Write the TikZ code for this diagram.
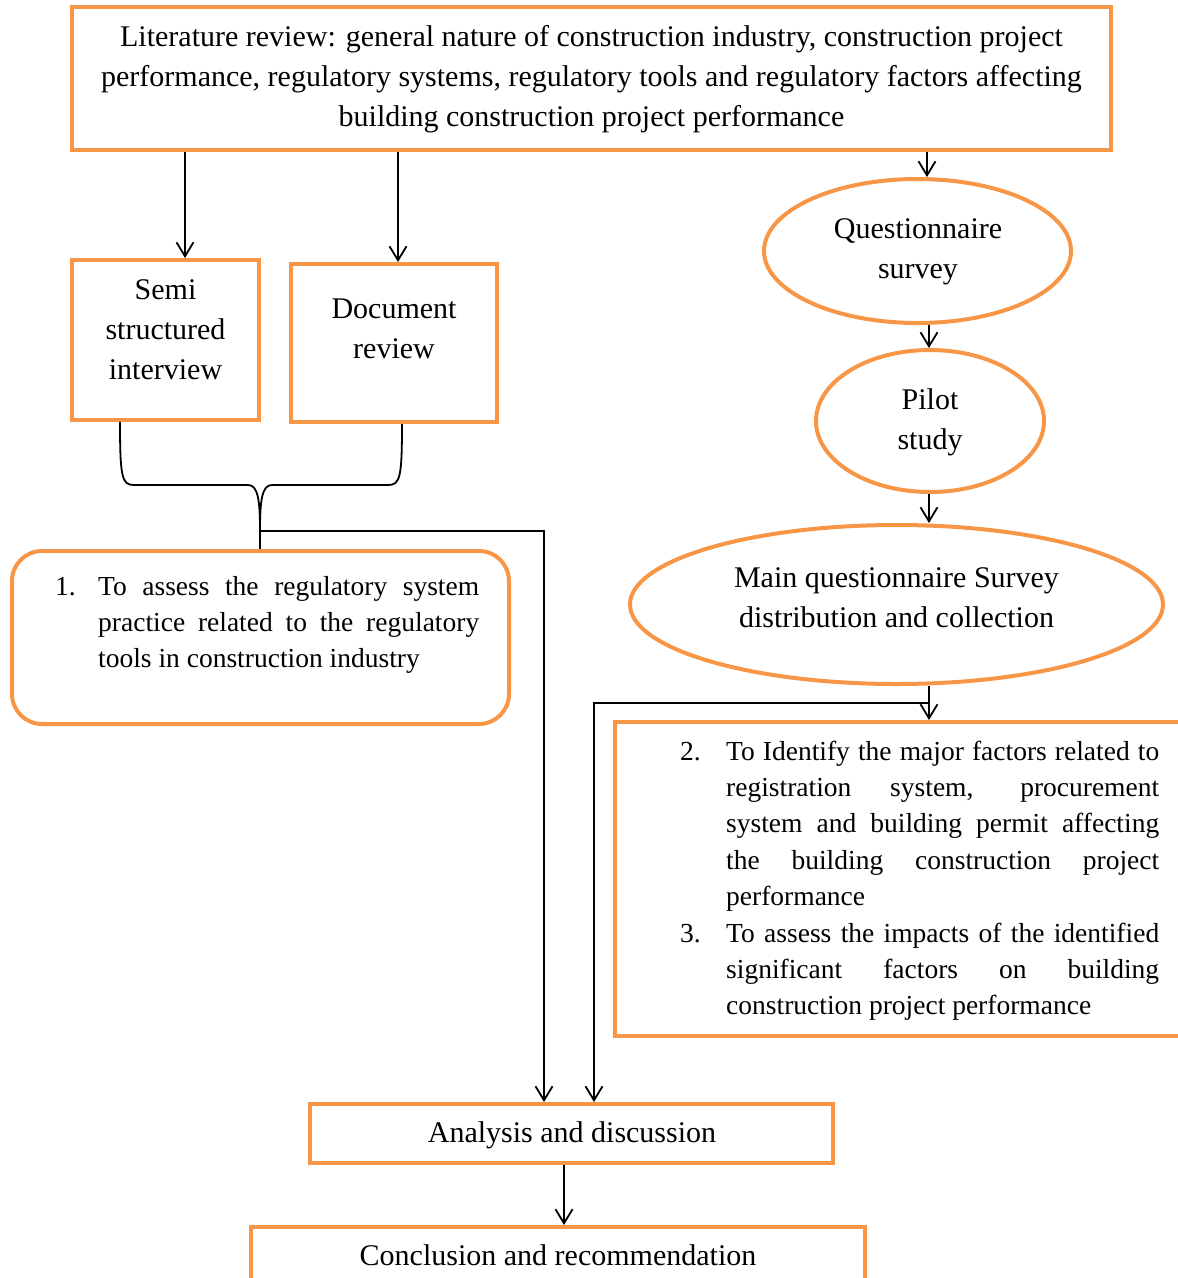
\documentclass[tikz,border=0pt]{standalone}
\usepackage{fontspec}
\setmainfont{Liberation Serif}
\usetikzlibrary{shapes.geometric,arrows.meta,calc}
\definecolor{boxorange}{HTML}{F79646}
\begin{document}
\begin{tikzpicture}[x=1pt,y=-1pt,
  obox/.style={draw=boxorange,line width=4pt,rectangle,inner sep=0pt},
  oell/.style={draw=boxorange,line width=4pt,ellipse,inner sep=0pt},
  big/.style={font=\fontsize{30}{40}\selectfont,inner sep=0pt,align=center,anchor=north},
  small/.style={font=\fontsize{27.5}{36.4}\selectfont,inner sep=0pt,align=justify,anchor=north west},
  conn/.style={draw=black,line width=1.8pt},
  arr/.style={conn,-{Straight Barb[length=14pt,width=17pt]}}]
\useasboundingbox (0,0) rectangle (1178,1278);
% boxes
\node[obox,minimum width=1039pt,minimum height=143pt] (top) at (591.5,78.5) {};
\node[obox,minimum width=187pt,minimum height=160pt] (semi) at (165.5,340) {};
\node[obox,minimum width=206pt,minimum height=158pt] (doc) at (394,343) {};
\node[oell,minimum width=307pt,minimum height=144pt] (quest) at (917.5,251) {};
\node[oell,minimum width=228pt,minimum height=142pt] (pilot) at (930,421) {};
\node[oell,minimum width=533pt,minimum height=159pt] (mainq) at (896.5,604.5) {};
\node[obox,rounded corners=30pt,minimum width=497pt,minimum height=173pt] (obj1) at (260.5,637.5) {};
\node[obox,minimum width=570pt,minimum height=314pt] (obj23) at (900,879) {};
\node[obox,minimum width=523pt,minimum height=59pt] (ana) at (571.5,1133.5) {};
\node[obox,minimum width=614pt,minimum height=73pt] (conc) at (558,1263.5) {};
% texts
\node[big] (toptxt) at (591.5,18) {\strut Literature review: general nature of construction industry, construction project\\performance, regulatory systems, regulatory tools and regulatory factors affecting\\building construction project performance};
\node[big] (semitxt) at (165.5,271) {\strut Semi\\structured\\interview};
\node[big] (doctxt) at (394,290) {\strut Document\\review};
\node[big] (questtxt) at (918,210.5) {\strut Questionnaire\\survey};
\node[big] (pilottxt) at (930,381) {\strut Pilot\\study};
\node[big] (maintxt) at (896.5,559) {\strut Main questionnaire Survey\\distribution and collection};
\node[big] (anatxt) at (572,1114) {\strut Analysis and discussion};
\node[big] (conctxt) at (558,1237) {\strut Conclusion and recommendation};
\node[small,text width=424pt] (obj1txt) at (55,569.5) {\tolerance=10000\hbadness=10000
\hangindent=43pt\hangafter=1\noindent\strut\makebox[43pt][l]{1.}To assess the regulatory system\linebreak practice related to the regulatory\linebreak tools in construction industry\par};
\node[small,text width=479pt] (obj23txt) at (680,734.5) {\tolerance=10000\hbadness=10000
\hangindent=46pt\hangafter=1\noindent\strut\makebox[46pt][l]{2.}To Identify the major factors related to\linebreak registration system, procurement\linebreak system and building permit affecting\linebreak the building construction project\linebreak performance\par
\hangindent=46pt\hangafter=1\noindent\makebox[46pt][l]{3.}To assess the impacts of the identified\linebreak significant factors on building\linebreak construction project performance\par};
% helper coordinates
\coordinate (c120) at (120,0);
\coordinate (c185) at (185,0);
\coordinate (c398) at (398,0);
\coordinate (c402) at (402,0);
\coordinate (c544) at (544,0);
\coordinate (c564) at (564,0);
\coordinate (c594) at (594,0);
\coordinate (c927) at (927,0);
\coordinate (c929) at (929,0);
\coordinate (join) at (260,531);
\coordinate (split) at (929,703);
% connectors
\draw[arr] (top.south -| c185) -- (semi.north -| c185);
\draw[arr] (top.south -| c398) -- (doc.north -| c398);
\draw[arr] (top.south -| c927) -- (quest.north -| c927);
\draw[arr] (quest.south -| c929) -- (pilot.north -| c929);
\draw[arr] (pilot.south -| c929) -- (mainq.north -| c929);
\draw[arr] (mainq.south -| c929) -- (obj23.north -| c929);
\draw[conn] (semi.south -| c120) .. controls (120,478) and (122,485) .. (134,485) -- (248,485) .. controls (258,485) and (260,500) .. (join);
\draw[conn] (doc.south -| c402) .. controls (402,478) and (400,485) .. (388,485) -- (272,485) .. controls (262,485) and (260,500) .. (join);
\draw[conn] (join) -- (obj1.north -| join);
\draw[arr] (join) -| (ana.north -| c544);
\draw[arr] (split) -| (ana.north -| c594);
\draw[arr] (ana.south -| c564) -- (conc.north -| c564);
\end{tikzpicture}
\end{document}
